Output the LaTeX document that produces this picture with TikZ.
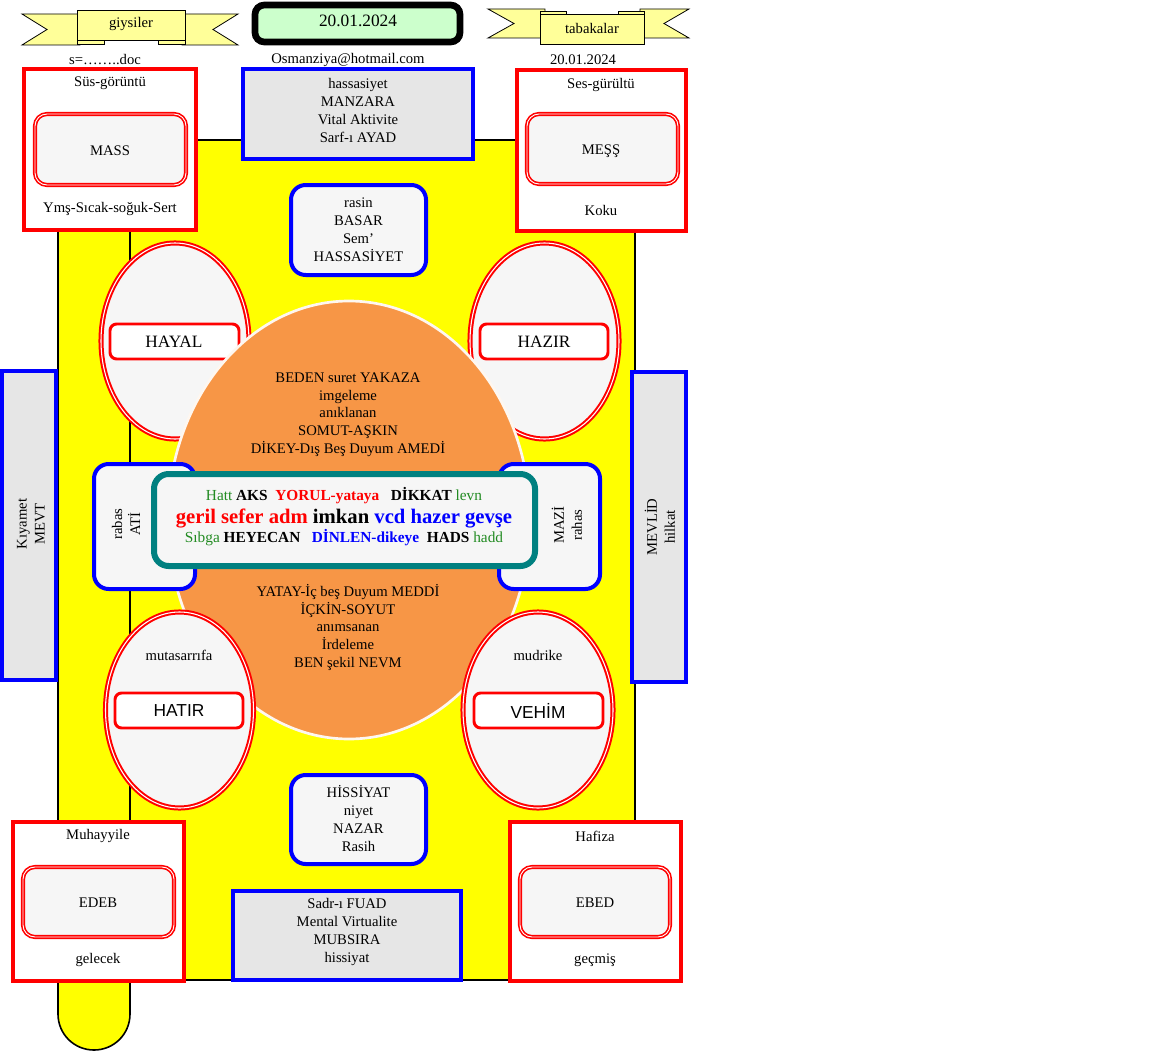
\documentclass[tikz,border=0pt]{standalone}
\usepackage{fontspec}
\setmainfont{Liberation Serif}
\newfontfamily\arialf{Liberation Sans}
\definecolor{yel}{HTML}{FFFF00}
\definecolor{ribbon}{HTML}{FFFF99}
\definecolor{datebg}{HTML}{CCFFCC}
\definecolor{boxgray}{HTML}{E6E6E6}
\definecolor{boxlight}{HTML}{F6F6F6}
\definecolor{orng}{HTML}{F79646}
\definecolor{tealc}{HTML}{008080}
\definecolor{grn}{HTML}{228B22}
\definecolor{redc}{HTML}{FF0000}
\definecolor{bluec}{HTML}{0000FF}
\begin{document}
\begin{tikzpicture}[x=0.75pt,y=-0.75pt,
  txt/.style={font=\fontsize{11}{13.5}\selectfont, inner sep=0pt, align=center},
  bigtxt/.style={font=\fontsize{13}{15}\selectfont, inner sep=0pt},
  redframe/.style={draw=redc, line width=3pt, fill=white},
  redinner/.style={draw=redc, double=white, double distance=0.7pt, line width=1.2pt, fill=boxlight, rounded corners=9pt},
  blueframe/.style={draw=bluec, line width=3pt, fill=boxgray},
  bluernd/.style={draw=bluec, line width=3pt, fill=boxlight, rounded corners=11pt},
  ovalfr/.style={draw=redc, double=white, double distance=0.8pt, line width=1.5pt, fill=boxlight},
  tagbox/.style={draw=redc, line width=2.2pt, fill=white, rounded corners=5pt},
  ribbonfill/.style={draw=black, line width=0.6pt, fill=ribbon},
]
\fill[white] (0,0) rectangle (1152,1052);
\useasboundingbox (0,0) rectangle (1152,1052);

% ---------- yellow table ----------
\filldraw[fill=yel, draw=black, line width=1.2pt] (58,140) -- (58,1014) .. controls (58,1034) and (74,1050) .. (94,1050) .. controls (114,1050) and (130,1034) .. (130,1014) -- (130,140) -- cycle;
\filldraw[fill=yel, draw=black, line width=1.2pt] (130,140) rectangle (635,980);

% ---------- ribbons ----------
\filldraw[ribbonfill] (22,14) -- (80,14) -- (80,45) -- (22,45) -- (47,29.5) -- cycle;
\filldraw[ribbonfill] (238,14) -- (182,14) -- (182,45) -- (238,45) -- (213,29.5) -- cycle;
\filldraw[ribbonfill] (77,38) rectangle (104,44);
\filldraw[ribbonfill] (158,38) rectangle (185,44);
\filldraw[ribbonfill] (77,10) rectangle (185,40);
\node[txt] (giy) at (131,24) {giysiler};

\filldraw[ribbonfill] (488,9) -- (545,9) -- (545,38) -- (488,38) -- (514,23.5) -- cycle;
\filldraw[ribbonfill] (689,9) -- (640,9) -- (640,38) -- (689,38) -- (664,23.5) -- cycle;
\filldraw[ribbonfill] (540,11) rectangle (566,16);
\filldraw[ribbonfill] (618,11) rectangle (644,16);
\filldraw[ribbonfill] (540,14) rectangle (644,44);
\node[txt] (tab) at (592,28) {tabakalar};

% ---------- date box ----------
\filldraw[draw=black, line width=5pt, fill=datebg, rounded corners=7pt] (255,5) rectangle (460,42);
\node[bigtxt] (date) at (358,21) {20.01.2024};

\node[txt] (doc) at (105,60) {s=……..doc};
\node[txt] (mail) at (348,60) {Osmanziya@hotmail.com};
\node[txt] (date2) at (583,60) {20.01.2024};

% ---------- top boxes ----------
\filldraw[redframe] (24,69) rectangle (196,230);
\filldraw[redinner] (35,114) rectangle (186,185);
\node[txt] (sus) at (110,83) {Süs-görüntü};
\node[txt] (mass) at (110,151) {MASS};
\node[txt] (yms) at (110,209) {Ymş-Sıcak-soğuk-Sert};

\filldraw[blueframe] (243,69) rectangle (473,159);
\node[txt] (manz) at (358,110) {hassasiyet\\MANZARA\\Vital Aktivite\\Sarf-ı AYAD};

\filldraw[redframe] (517,70) rectangle (686,231);
\filldraw[redinner] (527,114) rectangle (678,184);
\node[txt] (ses) at (601,85) {Ses-gürültü};
\node[txt] (mess) at (601,151) {MEŞŞ};
\node[txt] (koku) at (601,210) {Koku};

% ---------- upper ovals ----------
\filldraw[ovalfr] (175,341) ellipse [x radius=74, y radius=98];
\filldraw[tagbox] (110,324) rectangle (239,359);
\node[bigtxt] (hayal) at (174,342) {HAYAL};
\filldraw[ovalfr] (544.5,341) ellipse [x radius=74.5, y radius=98];
\filldraw[tagbox] (480,324) rectangle (608,359);
\node[bigtxt] (hazir) at (544,342) {HAZIR};

% ---------- orange disc ----------
\filldraw[fill=orng, draw=white!92!orng, line width=2pt] (349,520) ellipse [x radius=181, y radius=219];
\node[txt, font=\fontsize{11}{13.3}\selectfont] (beden) at (348,414.5) {BEDEN suret YAKAZA\\imgeleme\\anıklanan\\SOMUT-AŞKIN\\DİKEY-Dış Beş Duyum AMEDİ};
\node[txt, font=\fontsize{11}{13.3}\selectfont] (yatay) at (348,627.5) {YATAY-İç beş Duyum MEDDİ\\İÇKİN-SOYUT\\anımsanan\\İrdeleme\\BEN şekil NEVM};

% ---------- lower ovals ----------
\filldraw[ovalfr] (179.5,710) ellipse [x radius=74, y radius=98];
\filldraw[tagbox] (115,693) rectangle (243,728);
\node[txt] (mutas) at (179,655) {mutasarrıfa};
\node[bigtxt, font=\arialf\fontsize{13}{15}\selectfont] (hatir) at (179,711) {HATIR};
\filldraw[ovalfr] (538,710) ellipse [x radius=75, y radius=98];
\filldraw[tagbox] (474,693) rectangle (603,728);
\node[txt] (mudr) at (538,655) {mudrike};
\node[bigtxt, font=\arialf\fontsize{13}{15}\selectfont] (vehim) at (538,711) {VEHİM};

% ---------- side rounded boxes ----------
\filldraw[bluernd] (94,464) rectangle (195,589);
\node[txt, rotate=90] (rabas) at (126,524) {rabas\\ATİ};
\filldraw[bluernd] (499,464) rectangle (600,589);
\node[txt, rotate=90] (mazi) at (567,525) {MAZİ\\rahas};

% ---------- central box ----------
\filldraw[draw=tealc, line width=4.5pt, fill=boxlight, rounded corners=11pt] (154,474) rectangle (535,566);
\node[inner sep=0pt, font=\fontsize{11.5}{13}\selectfont] (c1) at (344,496) {\textcolor{grn}{Hatt} \textbf{AKS}\ \ \textcolor{redc}{\textbf{YORUL-yataya}}\ \ \ \textbf{DİKKAT} \textcolor{grn}{levn}};
\node[inner sep=0pt, font=\fontsize{15.5}{17}\selectfont\bfseries] (c2) at (344,518) {\textcolor{redc}{geril sefer adm} imkan \textcolor{bluec}{vcd hazer gevşe}};
\node[inner sep=0pt, font=\fontsize{11.5}{13}\selectfont] (c3) at (344,538) {\textcolor{grn}{Sıbga} \textbf{HEYECAN}\ \ \ \textcolor{bluec}{\textbf{DİNLEN-dikeye}}\ \ \textbf{HADS} \textcolor{grn}{hadd}};

% ---------- side bars ----------
\filldraw[blueframe] (2,371) rectangle (56,680);
\node[txt, rotate=90] (kiy) at (31,524) {Kıyamet\\MEVT};
\filldraw[blueframe] (632,372) rectangle (686,682);
\node[txt, rotate=90] (mevl) at (660,527) {MEVLİD\\hilkat};

% ---------- centre column boxes ----------
\filldraw[bluernd] (291,185) rectangle (426,275);
\node[txt] (basar) at (358.5,230) {rasin\\BASAR\\Sem’\\HASSASİYET};
\filldraw[bluernd] (291,775) rectangle (426,864);
\node[txt] (hiss) at (358.5,819) {HİSSİYAT\\niyet\\NAZAR\\Rasih};
\filldraw[blueframe] (233,891) rectangle (461,980);
\node[txt] (sadr) at (347,932) {Sadr-ı FUAD\\Mental Virtualite\\MUBSIRA\\hissiyat};

% ---------- bottom boxes ----------
\filldraw[redframe] (13,822) rectangle (184,981);
\filldraw[redinner] (23,867) rectangle (174,937);
\node[txt] (muh) at (98,836) {Muhayyile};
\node[txt] (edeb) at (98,903) {EDEB};
\node[txt] (gel) at (98,960) {gelecek};

\filldraw[redframe] (510,822) rectangle (681,981);
\filldraw[redinner] (520,867) rectangle (670,937);
\node[txt] (haf) at (595,836) {Hafiza};
\node[txt] (ebed) at (595,903) {EBED};
\node[txt] (gec) at (595,960) {geçmiş};
\end{tikzpicture}
\end{document}
